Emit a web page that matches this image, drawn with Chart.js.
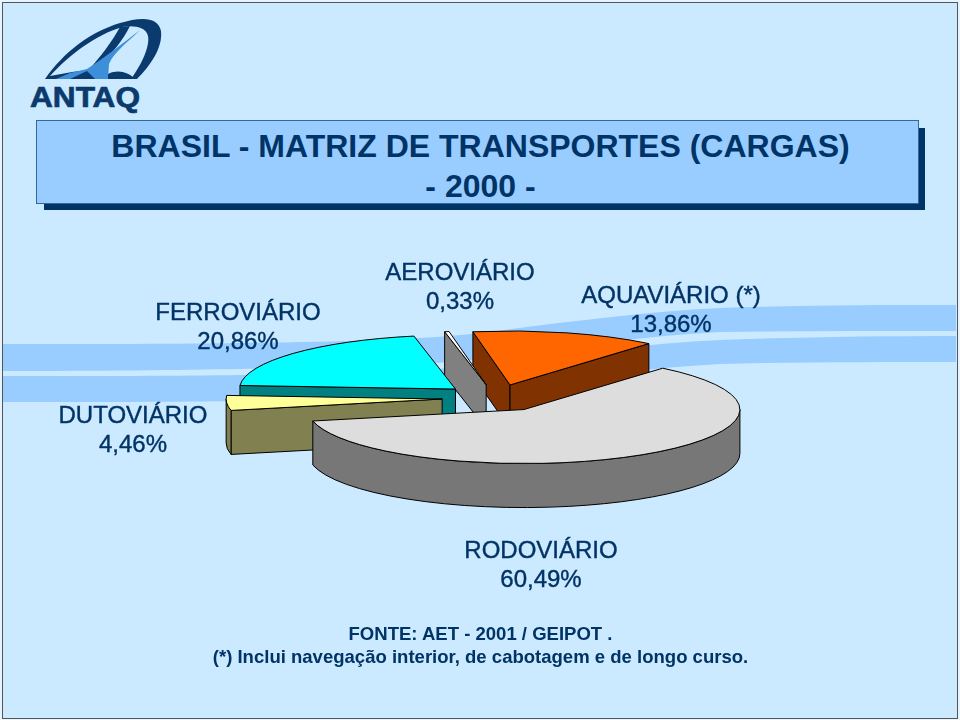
<!DOCTYPE html>
<html>
<head>
<meta charset="utf-8">
<title>Matriz de transportes</title>
<script src="https://cdn.jsdelivr.net/npm/chart.js@4"></script>
<style>
  body { margin: 0; background: #e8f5ff; }
  #page { position: relative; width: 960px; height: 720px; overflow: hidden; font-family: "Liberation Sans", Arial, sans-serif; }
  #frame { position: absolute; left: 2px; top: 2px; width: 954px; height: 715px; background: #cceaff; border: 1px solid #555; }
  #back, #chart { position: absolute; left: 0; top: 0; }
  #shadow { position: absolute; left: 44px; top: 128px; width: 881px; height: 82px; background: #003366; }
  #box { position: absolute; left: 36px; top: 120px; width: 881px; height: 82px; background: #99ccff; border: 1px solid #336699; }
  .title { position: absolute; left: 0; width: 961px; text-align: center; color: #003366; font-weight: bold; font-size: 32px; }
  .label { position: absolute; width: 300px; text-align: center; color: #003366; font-size: 24px; line-height: 29px; -webkit-text-stroke: 0.4px #003366; }
  .note { position: absolute; left: 0; width: 961px; text-align: center; color: #003366; font-weight: bold; font-size: 18.55px; }
</style>
</head>
<body>
<div id="page">
  <div id="frame"></div>
  <svg id="back" width="960" height="720">
    <path d="M3,344 C100,344 180,344 240,343 C330,342 420,340 480,333 C560,323 640,312 720,308 C800,305 880,305 956,305 L956,331 C880,331 800,331 720,332 C640,336 560,349 480,359 C420,366 330,368 240,369 C180,370 100,371 3,371 Z" fill="#99ccff"/>
    <path d="M3,376 C100,376 180,376 240,375 C330,374 420,372 480,365 C560,355 640,344 720,340 C800,337 880,336 956,336 L956,362 C880,362 800,362 720,364 C640,368 560,381 480,391 C420,398 330,400 240,401 C180,402 100,402 3,402 Z" fill="#99ccff"/>
    <path d="M45,79 C64,52 90,32 120,23 C140,17 158,16 161,31 C163,48 150,66 137,79 L131,79 C142,64 150,46 148,36 C146,27 134,25 122,27 C96,35 70,54 50,76 L72,72 L88,70 L96,79 Z" fill="#0b3a6e"/>
    <path d="M120,27 L130,26 C123,40 112,54 101,63 L88,71 C100,57 112,42 120,27 Z" fill="#0b3a6e"/>
    <path d="M140,30 C128,42 114,52 109,64 L108,79 L95,79 L87,71 L70,79 L56,79 L70,73 L87,69 C104,58 122,44 140,30 Z" fill="#3c8fd8"/>
    <path d="M108,74 C118,69 128,72 135,79 L108,79 Z" fill="#0b3a6e"/>
    <text x="30" y="107" font-family="Liberation Sans" font-weight="bold" font-size="29" fill="#0b3a6e" stroke="#0b3a6e" stroke-width="0.7" textLength="110" lengthAdjust="spacingAndGlyphs">ANTAQ</text>
  </svg>
  <div id="shadow"></div>
  <div id="box"></div>
  <div class="title" style="top:128px">BRASIL - MATRIZ DE TRANSPORTES (CARGAS)</div>
  <div class="title" style="top:168px">- 2000 -</div>
  <canvas id="chart" width="960" height="720"></canvas>
  <div id="labels"></div>
  <div class="note" style="top:623px">FONTE: AET - 2001 / GEIPOT .</div>
  <div class="note" style="top:646px">(*) Inclui navegação interior, de cabotagem e de longo curso.</div>
</div>
<script>
const categories = ["RODOVIÁRIO", "DUTOVIÁRIO", "FERROVIÁRIO", "AEROVIÁRIO", "AQUAVIÁRIO (*)"];
const shares = [60.49, 4.46, 20.86, 0.33, 13.86];
const topColors = ["#dddddd", "#ffff99", "#00ffff", "#ffffff", "#ff6600"];
const sideColors = ["#777777", "#808050", "#008080", "#808080", "#803300"];

// label centres on the page, same order as categories
const labelSpots = [[541, 535], [133, 400], [238, 297], [460, 257], [671, 280]];

const squash = 0.25;
const depth = 44;
const drawOrder = [4, 3, 2, 1, 0];

categories.forEach((name, i) => {
  const div = document.createElement("div");
  div.className = "label";
  div.style.left = labelSpots[i][0] - 150 + "px";
  div.style.top = labelSpots[i][1] + "px";
  div.innerHTML = name + "<br>" + shares[i].toFixed(2).replace(".", ",") + "%";
  document.getElementById("labels").appendChild(div);
});

function drawWedge(ctx, arc, side) {
  const s = arc.startAngle;
  const e = arc.endAngle;
  const r = arc.outerRadius;
  const mid = (s + e) / 2;
  const ax = arc.x + Math.cos(mid) * arc.options.offset;
  const ay = arc.y + Math.sin(mid) * arc.options.offset * squash;

  ctx.strokeStyle = "#000";
  ctx.lineWidth = 1;
  ctx.lineJoin = "round";

  // flat side walls, only when they face the viewer
  const walls = [];
  if (Math.cos(s) < 0) walls.push(s);
  if (Math.cos(e) > 0) walls.push(e);
  walls.forEach((a) => {
    const px = ax + r * Math.cos(a);
    const py = ay + r * squash * Math.sin(a);
    ctx.beginPath();
    ctx.moveTo(ax, ay);
    ctx.lineTo(px, py);
    ctx.lineTo(px, py + depth);
    ctx.lineTo(ax, ay + depth);
    ctx.closePath();
    ctx.fillStyle = side;
    ctx.fill();
    ctx.stroke();
  });

  // curved rim, front half of the ellipse only
  [-2 * Math.PI, 0, 2 * Math.PI].forEach((base) => {
    const lo = Math.max(s, base);
    const hi = Math.min(e, base + Math.PI);
    if (hi <= lo) return;
    ctx.beginPath();
    ctx.ellipse(ax, ay, r, r * squash, 0, lo, hi);
    ctx.ellipse(ax, ay + depth, r, r * squash, 0, hi, lo, true);
    ctx.closePath();
    ctx.fillStyle = side;
    ctx.fill();
    ctx.stroke();
  });

  ctx.beginPath();
  ctx.moveTo(ax, ay);
  ctx.ellipse(ax, ay, r, r * squash, 0, s, e);
  ctx.closePath();
  ctx.fillStyle = arc.options.backgroundColor;
  ctx.fill();
  ctx.stroke();
}

const pie3d = {
  id: "pie3d",
  beforeDatasetsDraw(chart) {
    const arcs = chart.getDatasetMeta(0).data;
    drawOrder.forEach((i) => drawWedge(chart.ctx, arcs[i], sideColors[i]));
    return false;
  },
};

new Chart(document.getElementById("chart"), {
  type: "pie",
  data: {
    labels: categories,
    datasets: [{ data: shares, backgroundColor: topColors, offset: 54, borderWidth: 0 }],
  },
  options: {
    responsive: false,
    animation: false,
    rotation: 40,
    radius: 216,
    layout: { padding: { left: 32, top: 76 } },
    plugins: { legend: { display: false }, tooltip: { enabled: false } },
  },
  plugins: [pie3d],
});
</script>
</body>
</html>
